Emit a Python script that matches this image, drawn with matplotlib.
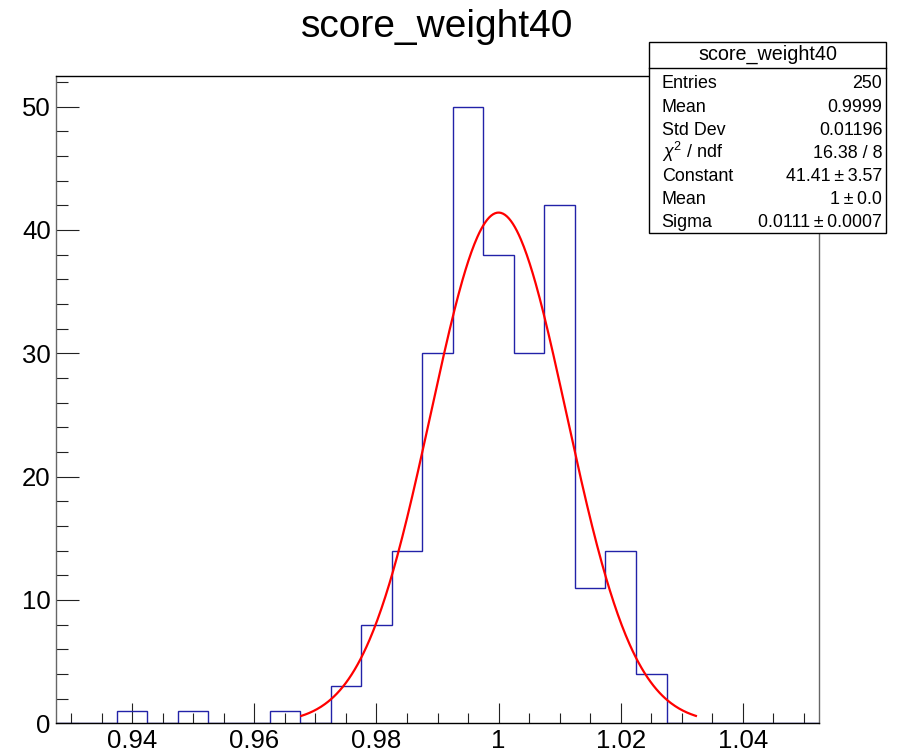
import matplotlib.pyplot as plt
import numpy as np
from matplotlib.patches import Rectangle
from matplotlib.lines import Line2D
from matplotlib.ticker import MultipleLocator, FuncFormatter

plt.rcParams['font.family'] = ['Liberation Sans', 'DejaVu Sans']
plt.rcParams['mathtext.fontset'] = 'custom'
plt.rcParams['mathtext.rm'] = 'Liberation Sans'
plt.rcParams['mathtext.it'] = 'Liberation Sans:italic'

# histogram (25 bins of 0.005)
hist_name = "score_weight40"
x_lo, x_hi, n_bins = 0.9275, 1.0525, 25
counts = [0, 0, 1, 0, 1, 0, 0, 1, 0, 3, 8, 14, 30, 50, 38, 30, 42, 11, 14, 4,
          0, 0, 0, 0, 0]

# gaussian fit from the stats box
fit_const = 41.41
fit_mean = 1.0
fit_sigma = 0.0111
fit_range = (0.9677, 1.0323)

stat_labels = ["Entries", "Mean", "Std Dev", r"$\chi^{2}$ / ndf", "Constant", "Mean", "Sigma"]
stat_values = ["250", "0.9999", "0.01196", "16.38 / 8", "41.41\u2009\u00b1\u20093.57",
               "1\u2009\u00b1\u20090.0", "0.0111\u2009\u00b1\u20090.0007"]

W, H = 903, 754


def fx(px):
    return px / W


def fy(py):
    return 1 - py / H


fig = plt.figure(figsize=(W / 100, H / 100), dpi=100)
ax = fig.add_axes([fx(55.7), fy(723.3), (819.3 - 55.7) / W, (723.3 - 75.8) / H])

edges = np.linspace(x_lo, x_hi, n_bins + 1)
ax.stairs(counts, edges, color='#2222a8', lw=1.0, zorder=2)

xf = np.linspace(fit_range[0], fit_range[1], 400)
yf = fit_const * np.exp(-0.5 * ((xf - fit_mean) / fit_sigma) ** 2)
ax.plot(xf, yf, color='#ff0000', lw=1.6, zorder=3)

ax.set_xlim(x_lo, x_hi)
ax.set_ylim(0, 52.5)

ax.xaxis.set_major_locator(MultipleLocator(0.02))
ax.xaxis.set_minor_locator(MultipleLocator(0.005))
ax.xaxis.set_major_formatter(FuncFormatter(lambda v, p: f"{round(v, 4):g}"))
ax.yaxis.set_major_locator(MultipleLocator(10))
ax.yaxis.set_minor_locator(MultipleLocator(2))

ax.tick_params(which='both', direction='in', top=False, right=False,
               labelsize=18.5, width=0.8, color='#222222')
ax.tick_params(axis='x', which='major', length=14.4, pad=4.0)
ax.tick_params(axis='x', which='minor', length=7.2)
ax.tick_params(axis='y', which='major', length=16.5, pad=3.6)
ax.tick_params(axis='y', which='minor', length=8.6)

for side, sp in ax.spines.items():
    sp.set_zorder(4)
    sp.set_linewidth(1.0)
    sp.set_color('black' if side in ('top', 'bottom') else '#666666')

fig.text(fx(436.9), fy(37.3), hist_name, ha='center', va='baseline', fontsize=28)

# stats box
bx0, bx1, by0, by1 = 649.3, 886.0, 41.7, 232.7
fig.add_artist(Rectangle((fx(bx0), fy(by1)), (bx1 - bx0) / W, (by1 - by0) / H,
                         transform=fig.transFigure, fc='white', ec='black',
                         lw=1.0, zorder=5))
fig.add_artist(Line2D([fx(bx0), fx(bx1)], [fy(68.3), fy(68.3)],
                      transform=fig.transFigure, color='black', lw=1.0, zorder=6))
fig.text(fx((bx0 + bx1) / 2), fy(60.0), hist_name, ha='center', va='baseline',
         fontsize=14.2, zorder=7)
for i, (lab, val) in enumerate(zip(stat_labels, stat_values)):
    yb = fy(88.5 + 23.05 * i)
    fig.text(fx(661.7), yb, lab, ha='left', va='baseline', fontsize=12.9, zorder=7)
    fig.text(fx(882.3), yb, val, ha='right', va='baseline', fontsize=12.9, zorder=7)

fig.savefig("out.png", dpi=100)
